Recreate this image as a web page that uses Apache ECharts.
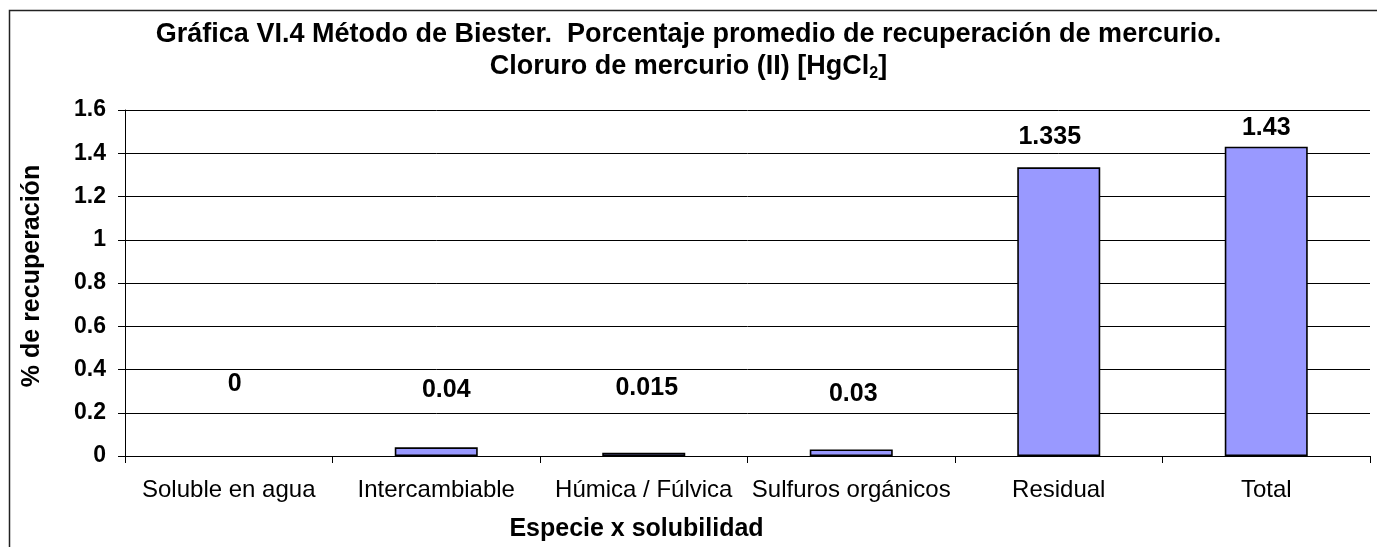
<!DOCTYPE html>
<html>
<head>
<meta charset="utf-8">
<script src="https://cdn.jsdelivr.net/npm/echarts@6/dist/echarts.min.js"></script>
<style>
  html, body { margin: 0; padding: 0; background: #fff; }
  #main { width: 1377px; height: 547px; }
</style>
</head>
<body>
<div id="main"></div>
<script>
// datos de la gráfica
var categorias = ['Soluble en agua', 'Intercambiable', 'Húmica / Fúlvica', 'Sulfuros orgánicos', 'Residual', 'Total'];
var recuperacion = [0, 0.04, 0.015, 0.03, 1.335, 1.43];
var ticksY = [0, 0.2, 0.4, 0.6, 0.8, 1, 1.2, 1.4, 1.6];

// las etiquetas de Excel estaban movidas a mano
var desplaza = [[6, -54], [10, -40], [3, -47], [2, -38], [-9, -13], [0, -1]];

var myChart = echarts.init(document.getElementById('main'));
var fuente = 'Liberation Sans, Arial, sans-serif';

myChart.setOption({
  animation: false,
  textStyle: { fontFamily: fuente, color: '#000' },
  title: {
    left: 'center',
    top: 14,
    text: '{a|Gráfica VI.4 Método de Biester.  Porcentaje promedio de recuperación de mercurio.}\n{a|Cloruro de mercurio (II) [HgCl}{sub|2}{a|]}',
    textStyle: {
      rich: {
        a: { fontFamily: fuente, fontSize: 27, fontWeight: 'bold', color: '#000', lineHeight: 32 },
        sub: { fontFamily: fuente, fontSize: 16, fontWeight: 'bold', color: '#000', lineHeight: 32, padding: [14, 0, 0, 0] }
      }
    }
  },
  graphic: [{
    type: 'rect',
    shape: { x: 9.5, y: 10.5, width: 1500, height: 700 },
    style: { fill: 'none', stroke: '#222', lineWidth: 1.5 },
    silent: true
  }],
  grid: { left: 125, right: 7, top: 110, bottom: 91 },
  xAxis: {
    type: 'category',
    data: categorias,
    name: 'Especie x solubilidad',
    nameLocation: 'middle',
    nameGap: 61,
    nameTextStyle: { fontSize: 25, fontWeight: 'bold', color: '#000', padding: [0, 222, 0, 0] },
    axisLine: { lineStyle: { color: '#000', width: 1 } },
    axisTick: { show: true, length: 7, lineStyle: { color: '#000' } },
    axisLabel: { fontSize: 24, color: '#000', margin: 22, interval: 0 }
  },
  yAxis: {
    type: 'value',
    min: ticksY[0],
    max: ticksY[ticksY.length - 1],
    interval: 0.2,
    name: '% de recuperación',
    nameLocation: 'middle',
    nameGap: 80,
    nameTextStyle: { fontSize: 25, fontWeight: 'bold', color: '#000', padding: [0, 0, 0, 14] },
    axisLine: { show: true, lineStyle: { color: '#000', width: 1 } },
    axisTick: { show: true, length: 7, lineStyle: { color: '#000' } },
    axisLabel: {
      fontSize: 23, fontWeight: 'bold', color: '#000', margin: 19,
      formatter: function (v) { return String(Math.round(v * 10) / 10); }
    },
    splitLine: { show: true, lineStyle: { color: '#000', width: 1 } }
  },
  series: [{
    type: 'bar',
    barWidth: '40%',
    data: recuperacion.map(function (v, i) {
      return {
        value: v,
        label: { offset: desplaza[i] },
        itemStyle: v === 0 ? { borderWidth: 0 } : undefined
      };
    }),
    itemStyle: { color: '#9999FF', borderColor: '#000', borderWidth: 1.6 },
    label: {
      show: true,
      position: 'top',
      fontSize: 25,
      fontWeight: 'bold',
      color: '#000',
      formatter: function (p) { return String(p.value); }
    }
  }]
});
</script>
</body>
</html>
